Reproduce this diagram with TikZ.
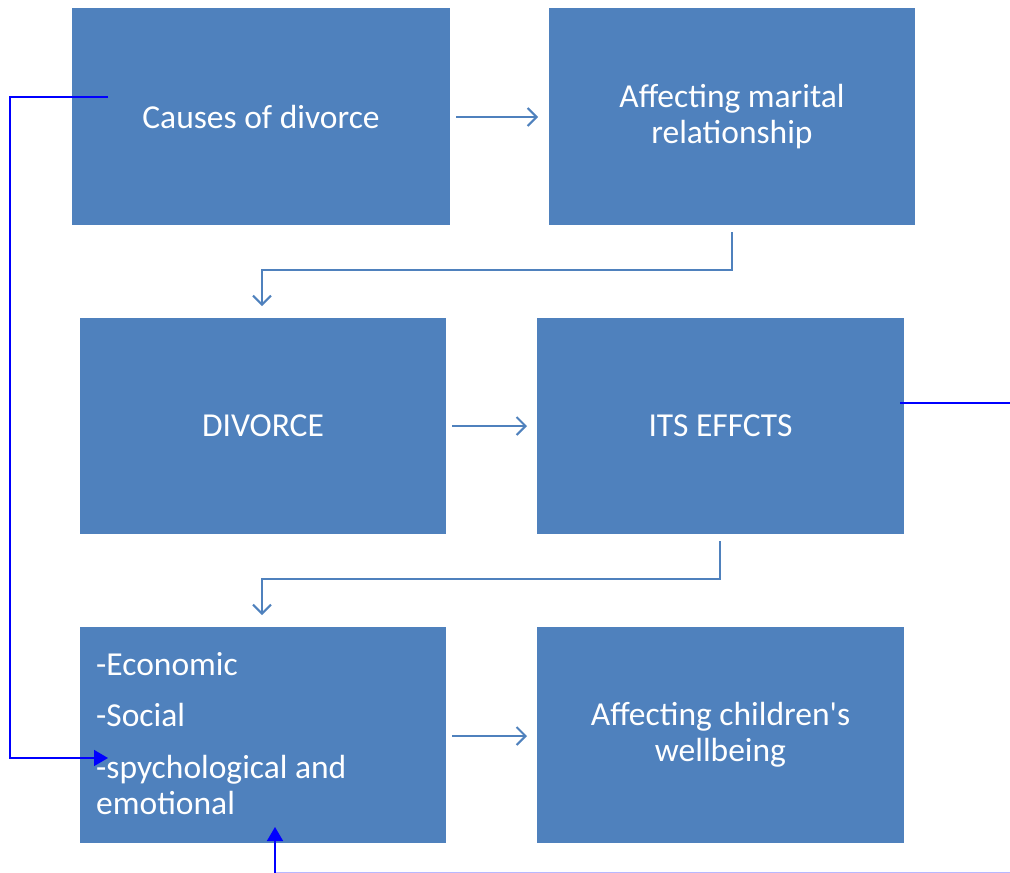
\documentclass[tikz,border=0pt]{standalone}
\usepackage{fontspec}
\setmainfont{Carlito}
\usetikzlibrary{arrows.meta}
\definecolor{boxblue}{HTML}{4F81BD}
\definecolor{linkblue}{HTML}{0000FF}
\definecolor{paleblue}{HTML}{B8B8FF}
\begin{document}
\begin{tikzpicture}[x=1pt,y=-1pt,
  boxfont/.style={font=\fontsize{33.5}{36}\selectfont},
  box/.style={fill=boxblue,draw=none,inner sep=0pt,text=white,align=center,boxfont},
  flow/.style={draw=boxblue,line width=2pt,-{Straight Barb[length=9pt,width=18pt,line width=2pt]}},
  link/.style={draw=linkblue,line width=1.6pt},
  linkarrow/.style={link,-{Triangle[length=14pt,width=16pt]}}]
\useasboundingbox (0,0) rectangle (1010,873);
\node[box,minimum width=378pt,minimum height=217pt] (b1) at (261,116.5) {Causes of divorce};
\node[box,minimum width=366pt,minimum height=217pt] (b2) at (732,116.5) {Affecting marital\\relationship};
\node[box,minimum width=366pt,minimum height=216pt] (b3) at (263,426) {DIVORCE};
\node[box,minimum width=367pt,minimum height=216pt] (b4) at (720.5,426) {ITS EFFCTS};
\node[box,minimum width=366pt,minimum height=216pt] (b5) at (263,735) {};
\node[box,minimum width=367pt,minimum height=216pt] (b6) at (720.5,735) {Affecting children\textquotesingle s\\wellbeing};
\node[anchor=base west,inner sep=0pt,text=white,align=left,boxfont] (t5) at (96,814)
 {-Economic\\[15.5pt]-Social\\[15.5pt]-spychological and\\emotional};
% flow arrows
\coordinate (a1s) at (456,117); \coordinate (a1e) at (538,117);
\draw[flow] (a1s) -- (a1e);
\coordinate (a2s) at (452,426); \coordinate (a2e) at (527,426);
\draw[flow] (a2s) -- (a2e);
\coordinate (a3s) at (452,736); \coordinate (a3e) at (527,736);
\draw[flow] (a3s) -- (a3e);
\coordinate (e1s) at (732,232); \coordinate (e1e) at (262,306);
\draw[flow] (e1s) |- (262,270) -- (e1e);
\coordinate (e2s) at (720,541); \coordinate (e2e) at (262,615);
\draw[flow] (e2s) |- (262,579) -- (e2e);
% blue links
\coordinate (l1s) at (108,97); \coordinate (l1e) at (108,758);
\draw[linkarrow] (l1s) -- (10,97) -- (10,758) -- (l1e);
\coordinate (l2s) at (900,403); \coordinate (l2e) at (1010,403);
\draw[link] (l2s) -- (l2e);
\coordinate (l3s) at (1010,872.5); \coordinate (l3e) at (275,827);
\draw[draw=paleblue,line width=1pt] (l3s) -- (275,872.5);
\draw[linkarrow] (275,873) -- (l3e);
\end{tikzpicture}
\end{document}
